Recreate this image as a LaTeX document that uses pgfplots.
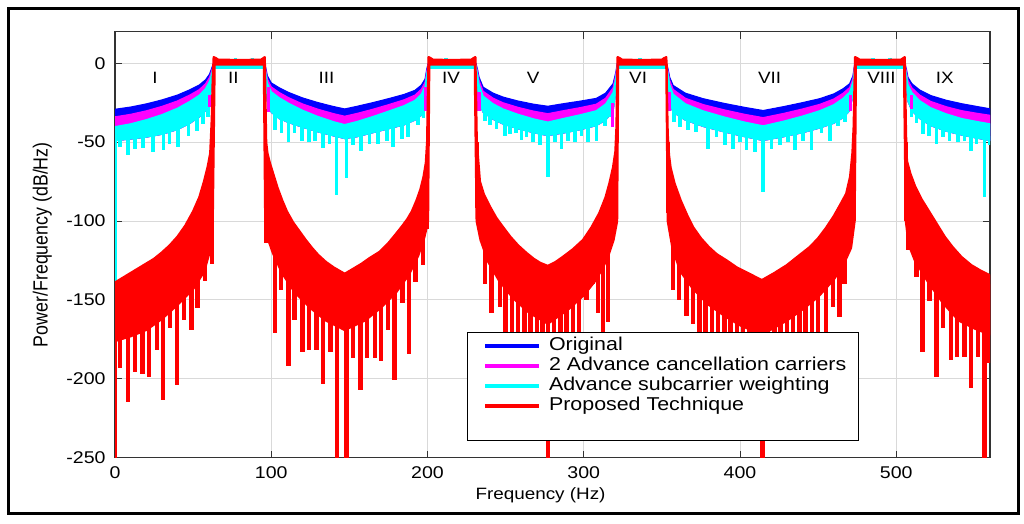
\documentclass[border=0pt]{standalone}
\usepackage{fontspec}
\setmainfont{Liberation Sans}[FakeStretch=1.15]
\newfontfamily\ylfont{Liberation Sans}
\usepackage{graphicx}
\usepackage{pgfplots}
\pgfplotsset{compat=1.18}
\definecolor{cBlue}{RGB}{0,0,255}
\definecolor{cMag}{RGB}{255,0,255}
\definecolor{cCyan}{RGB}{0,255,255}
\definecolor{cRed}{RGB}{255,0,0}
\begin{document}
\begin{tikzpicture}
\useasboundingbox (0pt,0pt) rectangle (512pt,262pt);
\draw[line width=1.5pt] (4.15pt,5.35pt) rectangle (509.25pt,257.75pt);
\begin{axis}[
  at={(57.5pt,33.15pt)}, anchor=south west,
  scale only axis, width=437.5pt, height=213pt,
  xmin=0, xmax=560, ymin=-250, ymax=20,
  xtick={0,100,200,300,400,500},
  ytick={-250,-200,-150,-100,-50,0},
  /pgf/number format/assume math mode=true,
  tick label style={font=\fontsize{8.5}{10}\selectfont},
  yticklabel style={inner sep=0pt, xshift=-4.5pt},
  xticklabel style={inner sep=0pt, yshift=-4.5pt},
  tick align=inside, major tick length=3.5pt,
  tick style={black!80, line width=0.5pt},
  axis line style={black!80, line width=0.6pt},
  grid=major, major grid style={gray!30, line width=0.5pt},
  xlabel={Frequency (Hz)},
  xlabel style={font=\fontsize{8.2}{10}\selectfont, at={(axis description cs:0.4863,-0.0876)}, anchor=center, inner sep=0pt},
  ylabel={\scalebox{1}[1.15]{Power/Frequency (dB/Hz)}},
  ylabel style={font=\ylfont\fontsize{8.9}{10}\selectfont, at={(axis description cs:-0.083,0.5)}, anchor=center, inner sep=0pt},
  legend image code/.code={\path (0pt,0pt); \draw[#1, line width=2pt, fill=none] (2pt,0pt) -- (29pt,0pt);},
  legend cell align=left,
  legend style={at={(0.4026,0.2958)}, anchor=north west, draw=black, line width=0.6pt, fill=white,
    inner xsep=6pt, inner ysep=2pt, row sep=0pt,
    font=\fontsize{9.3}{10}\selectfont,
    nodes={inner sep=0pt, text height=7pt, text depth=3pt},
    /tikz/every odd column/.style={column sep=4pt}},
]
% Original
\addplot[draw=cBlue, fill=cBlue, line width=0.6pt, line join=round] coordinates {
(0,-29.2) (10,-27.8) (20,-25.8) (30,-23.3) (40,-20.2) (48,-16.8) (54,-13.8) (58,-10.5) (60.5,-7) (62,-3) (63,0)
(95.5,0) (96.5,-3) (97.5,-8) (100,-12.5) (105,-15.5) (111,-18.5) (120,-22) (130,-25) (140,-27.5) (147,-29) (155,-27.3) (165,-25) (175,-22.5) (185,-19.8) (192,-17.2) (196,-14) (198.5,-10) (199.5,-4) (200.5,0)
(231,0) (232,-4) (233,-9) (235.6,-15.2) (242,-19) (248.4,-21.5) (258,-24) (268,-26) (277,-27.3) (288,-25.5) (298,-24) (308,-22.3) (314,-19) (318.8,-13) (320.5,-6) (321.5,0)
(353,0) (354,-4) (355,-9) (357.2,-14.1) (365,-19) (376.4,-22.5) (390,-25.5) (403,-28) (414.8,-30) (428,-27.5) (440,-25) (451,-22.5) (460,-19.5) (466,-16.2) (470.2,-13) (472.3,-8) (473.5,0)
(505.5,0) (506.5,-4) (507.5,-9) (510,-13) (515,-17) (522,-20.5) (532,-23.5) (542,-25.7) (552,-27.5) (560,-28.9)
(560,-49) (552,-47.5) (542,-45.5) (532,-43) (522,-39.5) (515,-35) (510,-30) (507.5,-24) (506.5,-15) (505.5,-3.2)
(473.5,-3.2) (472.3,-20) (470.2,-30) (466,-34.5) (460,-38) (451,-41) (440,-44) (428,-46.5) (414.8,-48.9) (403,-46.5) (390,-43.5) (376.4,-40) (365,-36) (357.2,-31) (355,-25) (354,-15) (353,-3.2)
(321.5,-3.2) (320.5,-18) (318.8,-30) (314,-36) (308,-39.5) (298,-42) (288,-44) (277,-45.8) (268,-44) (258,-41.5) (248.4,-38.5) (242,-35.5) (235.6,-31) (233,-25) (232,-15) (231,-3.2)
(200.5,-3.2) (199.5,-16) (198.5,-28) (196,-33) (192,-36) (185,-39) (175,-41.5) (165,-44) (155,-46.5) (147,-47.7) (140,-46) (130,-43.5) (120,-40.5) (111,-37.5) (105,-35) (100,-31) (97.5,-24) (96.5,-14) (95.5,-3.2)
(63,-3.2) (62,-12) (60.5,-24) (58,-30) (54,-34) (48,-38) (40,-42) (30,-45) (20,-46.8) (10,-48) (0,-49)
} -- cycle;
\addlegendentry{Original}
% 2 Advance cancellation carriers
\addplot[draw=cMag, fill=cMag, line width=0.6pt, line join=round] coordinates {
(0,-34) (10,-32.4) (20,-30.2) (30,-27.4) (40,-23.9) (48,-20.1) (54,-16.7) (58,-13) (60.5,-9) (62,-4.5) (63,-1)
(95.5,-1) (96.5,-4.5) (97.5,-10) (100,-15) (105,-18.5) (111,-21.8) (120,-25.8) (130,-29.2) (140,-32) (147,-33.6) (155,-31.8) (165,-29.2) (175,-26.3) (185,-23.2) (192,-20.2) (196,-16.6) (198.5,-12) (199.5,-5.5) (200.5,-1)
(231,-1) (232,-5.5) (233,-11) (235.6,-17.8) (242,-22.2) (248.4,-25.1) (258,-28) (268,-30.4) (277,-32) (288,-29.9) (298,-28.1) (308,-26) (314,-22.2) (318.8,-15.5) (320.5,-7.5) (321.5,-1)
(353,-1) (354,-5.5) (355,-11) (357.2,-16.6) (365,-22.2) (376.4,-26.2) (390,-29.6) (403,-32.4) (414.8,-34.5) (428,-31.8) (440,-29) (451,-26.1) (460,-22.7) (466,-19) (470.2,-15.4) (472.3,-9.8) (473.5,-1)
(505.5,-1) (506.5,-5.5) (507.5,-11) (510,-15.6) (515,-20.2) (522,-24.2) (532,-27.6) (542,-30.1) (552,-31.8) (560,-33)
(560,-49) (552,-47.5) (542,-45.5) (532,-43) (522,-39.5) (515,-35) (510,-30) (507.5,-24) (506.5,-15) (505.5,-3.2)
(473.5,-3.2) (472.3,-20) (470.2,-30) (466,-34.5) (460,-38) (451,-41) (440,-44) (428,-46.5) (414.8,-48.9) (403,-46.5) (390,-43.5) (376.4,-40) (365,-36) (357.2,-31) (355,-25) (354,-15) (353,-3.2)
(321.5,-3.2) (320.5,-18) (318.8,-30) (314,-36) (308,-39.5) (298,-42) (288,-44) (277,-45.8) (268,-44) (258,-41.5) (248.4,-38.5) (242,-35.5) (235.6,-31) (233,-25) (232,-15) (231,-3.2)
(200.5,-3.2) (199.5,-16) (198.5,-28) (196,-33) (192,-36) (185,-39) (175,-41.5) (165,-44) (155,-46.5) (147,-47.7) (140,-46) (130,-43.5) (120,-40.5) (111,-37.5) (105,-35) (100,-31) (97.5,-24) (96.5,-14) (95.5,-3.2)
(63,-3.2) (62,-12) (60.5,-24) (58,-30) (54,-34) (48,-38) (40,-42) (30,-45) (20,-46.8) (10,-48) (0,-49)
} -- cycle;
\addlegendentry{2 Advance cancellation carriers}
% Advance subcarrier weighting
\addplot[draw=cCyan, fill=cCyan, line width=0.6pt, line join=round] coordinates {
(0,-40.2) (10,-38.4) (20,-35.8) (30,-32.6) (40,-28.5) (48,-24.1) (54,-20.2) (58,-16) (60.5,-11.4) (62,-6) (63,-1.5)
(95.5,-1.5) (96.5,-6) (97.5,-12.5) (100,-18) (105,-21.8) (111,-25.3) (120,-29.8) (130,-33.8) (140,-37.1) (147,-38.9) (155,-36.9) (165,-33.8) (175,-30.4) (185,-26.9) (192,-23.5) (196,-19.6) (198.5,-14.5) (199.5,-7) (200.5,-1.5)
(231,-1.5) (232,-7) (233,-13.5) (235.6,-20.8) (242,-25.7) (248.4,-29) (258,-32.4) (268,-35.3) (277,-37.3) (288,-34.8) (298,-32.6) (308,-30.1) (314,-25.8) (318.8,-18.5) (320.5,-9.5) (321.5,-1.5)
(353,-1.5) (354,-7) (355,-13.5) (357.2,-19.6) (365,-25.7) (376.4,-30.2) (390,-34.1) (403,-37.3) (414.8,-39.7) (428,-36.7) (440,-33.5) (451,-30.1) (460,-26.3) (466,-22.2) (470.2,-18.2) (472.3,-11.8) (473.5,-1.5)
(505.5,-1.5) (506.5,-7) (507.5,-13.5) (510,-18.6) (515,-23.7) (522,-28.2) (532,-32.1) (542,-35.1) (552,-37) (560,-38.4)
(560,-49) (552,-47.5) (542,-45.5) (532,-43) (522,-39.5) (515,-35) (510,-30) (507.5,-24) (506.5,-15) (505.5,-3.2)
(473.5,-3.2) (472.3,-20) (470.2,-30) (466,-34.5) (460,-38) (451,-41) (440,-44) (428,-46.5) (414.8,-48.9) (403,-46.5) (390,-43.5) (376.4,-40) (365,-36) (357.2,-31) (355,-25) (354,-15) (353,-3.2)
(321.5,-3.2) (320.5,-18) (318.8,-30) (314,-36) (308,-39.5) (298,-42) (288,-44) (277,-45.8) (268,-44) (258,-41.5) (248.4,-38.5) (242,-35.5) (235.6,-31) (233,-25) (232,-15) (231,-3.2)
(200.5,-3.2) (199.5,-16) (198.5,-28) (196,-33) (192,-36) (185,-39) (175,-41.5) (165,-44) (155,-46.5) (147,-47.7) (140,-46) (130,-43.5) (120,-40.5) (111,-37.5) (105,-35) (100,-31) (97.5,-24) (96.5,-14) (95.5,-3.2)
(63,-3.2) (62,-12) (60.5,-24) (58,-30) (54,-34) (48,-38) (40,-42) (30,-45) (20,-46.8) (10,-48) (0,-49)
} -- cycle;
\addlegendentry{Advance subcarrier weighting}
% cyan spikes
\addplot[cCyan, line width=1.8pt, forget plot, unbounded coords=jump] coordinates {
(0,-45) (0,-140) (0,nan)
(3.2,-46) (3.2,-53) (3.2,nan) (8.5,-45) (8.5,-58.4) (8.5,nan) (12.8,-45) (12.8,-54.5) (12.8,nan)
(18,-44) (18,-54) (18,nan) (24.5,-43) (24.5,-56) (24.5,nan) (31,-42) (31,-55) (31,nan)
(35,-41) (35,-51) (35,nan) (40.5,-39) (40.5,-53) (40.5,nan) (47,-35) (47,-46) (47,nan)
(52.3,-32) (52.3,-43) (52.3,nan) (56.5,-29) (56.5,-38.5) (56.5,nan) (59.7,-24) (59.7,-34) (59.7,nan)
(102.4,-30) (102.4,-42.6) (102.4,nan) (106.5,-33) (106.5,-44) (106.5,nan) (111,-35) (111,-50) (111,nan)
(115,-37) (115,-44.5) (115,nan) (119.7,-38) (119.7,-49) (119.7,nan) (124,-40) (124,-50) (124,nan)
(128,-41) (128,-49) (128,nan) (133.3,-42) (133.3,-54) (133.3,nan) (137.4,-43) (137.4,-51) (137.4,nan)
(141.8,-44) (141.8,-83.7) (141.8,nan) (148.2,-44) (148.2,-73) (148.2,nan) (152.5,-44) (152.5,-52) (152.5,nan)
(157.4,-43) (157.4,-55.3) (157.4,nan) (163,-42) (163,-51) (163,nan) (168.5,-41) (168.5,-51) (168.5,nan)
(174,-39) (174,-49) (174,nan) (178,-38) (178,-53) (178,nan) (183.5,-37) (183.5,-48) (183.5,nan)
(187.7,-35) (187.7,-46.8) (187.7,nan) (194,-32) (194,-39.4) (194,nan) (197.5,-25) (197.5,-35) (197.5,nan)
(236.7,-30) (236.7,-36.3) (236.7,nan) (240,-32) (240,-39.4) (240,nan) (244.2,-34) (244.2,-41.5) (244.2,nan)
(249.5,-36) (249.5,-45.8) (249.5,nan) (252.7,-37) (252.7,-45) (252.7,nan) (256.5,-38) (256.5,-44) (256.5,nan)
(260.2,-39) (260.2,-48.9) (260.2,nan) (263.4,-39) (263.4,-46.8) (263.4,nan) (267.6,-40) (267.6,-50) (267.6,nan)
(272,-41) (272,-52) (272,nan) (277.2,-41) (277.2,-72) (277.2,nan) (281.5,-41) (281.5,-50) (281.5,nan)
(285.8,-40) (285.8,-54.2) (285.8,nan) (290,-40) (290,-49) (290,nan) (294.3,-39) (294.3,-50) (294.3,nan)
(298.6,-38) (298.6,-45.8) (298.6,nan) (302.8,-37) (302.8,-50) (302.8,nan) (308.2,-35) (308.2,-49) (308.2,nan)
(313.5,-33) (313.5,-40) (313.5,nan) (317,-27) (317,-34) (317,nan)
(357.8,-28) (357.8,-37.3) (357.8,nan) (361.5,-31) (361.5,-40.5) (361.5,nan) (366.6,-34) (366.6,-42.6) (366.6,nan)
(372,-36) (372,-43.7) (372,nan) (379.6,-38) (379.6,-54.2) (379.6,nan) (385,-39) (385,-46.8) (385,nan)
(390.3,-40) (390.3,-52) (390.3,nan) (395.6,-41) (395.6,-54.2) (395.6,nan) (399.9,-42) (399.9,-50) (399.9,nan)
(404.2,-43) (404.2,-55.2) (404.2,nan) (409.5,-44) (409.5,-56.3) (409.5,nan) (414.8,-45) (414.8,-81.6) (414.8,nan)
(420.2,-44) (420.2,-54.2) (420.2,nan) (425.5,-43) (425.5,-52) (425.5,nan) (430.9,-42) (430.9,-50) (430.9,nan)
(435.1,-42) (435.1,-55.2) (435.1,nan) (440.4,-41) (440.4,-49) (440.4,nan) (445.8,-40) (445.8,-55.2) (445.8,nan)
(452.2,-38) (452.2,-44) (452.2,nan) (457.6,-36) (457.6,-49) (457.6,nan) (462.9,-34) (462.9,-40) (462.9,nan)
(467.2,-31) (467.2,-37) (467.2,nan)
(509.7,-26) (509.7,-34) (509.7,nan) (512.9,-30) (512.9,-38) (512.9,nan) (517.2,-33) (517.2,-44.7) (517.2,nan)
(521,-36) (521,-46) (521,nan) (525.7,-38) (525.7,-51) (525.7,nan) (530,-40) (530,-47) (530,nan)
(534.2,-41) (534.2,-49) (534.2,nan) (539.6,-42) (539.6,-50) (539.6,nan) (543.8,-43) (543.8,-49) (543.8,nan)
(548,-44) (548,-55.3) (548,nan) (551.3,-45) (551.3,-51) (551.3,nan) (556.6,-45) (556.6,-84.8) (556.6,nan)
(559.7,-46) (559.7,-52) (559.7,nan)
(70.5,-2) (70.5,3) (70.5,nan) (77,-2) (77,3.5) (77,nan) (88,-2) (88,3.5) (88,nan)
(212,-2) (212,3.5) (212,nan) (219,-2) (219,3) (219,nan) (336,-2) (336,3.5) (336,nan) (342,-2) (342,3) (342,nan)
(485,-2) (485,3.5) (485,nan) (490,-2) (490,3) (490,nan) (496,-2) (496,3.5) (496,nan)
};
% magenta notches
\addplot[cMag, line width=1.6pt, forget plot, unbounded coords=jump] coordinates {
(60.8,-20) (60.8,-27.8) (60.8,nan) (98,-15) (98,-31) (98,nan) (199,-15) (199,-30) (199,nan)
(233,-18) (233,-30) (233,nan) (318.4,-25) (318.4,-40.5) (318.4,nan) (355,-18) (355,-30) (355,nan)
(470.5,-20) (470.5,-30) (470.5,nan) (509.7,-20) (509.7,-29) (509.7,nan)
};
% Proposed Technique
\addplot[draw=cRed, fill=cRed, line width=1.2pt, line join=round] coordinates {
(0,-139) (5,-136) (10,-133) (15,-130) (20,-127) (25,-124) (30,-120) (35,-115.5) (40,-110) (45,-103) (50,-94) (54,-85) (57,-75) (59.5,-65) (61,-57) (62,-35) (62.6,-10) (63.2,3.8) (64.5,3.2) (66,2.2) (80,2) (93.5,2.2) (95,3.2) (95.8,3.8)
(96.2,-20) (96.7,-50) (97.5,-57) (99,-63) (101.5,-71) (104,-79) (107,-87) (110,-94) (114,-101) (118,-106.5) (122,-112) (126,-117) (130,-121.5) (135,-126) (140,-129.5) (147,-133.5) (153,-130) (158,-127) (163,-123.5) (169.5,-119.5) (175,-114) (180,-108) (184,-103) (187,-99) (190,-94) (193,-87) (195.5,-80) (197.5,-72) (199,-63) (199.8,-50) (200.3,-20) (200.7,3.8) (202,3.2) (203.5,2.2) (215,2) (228,2.2) (229.5,3.2) (230.6,3.8)
(231,-20) (231.5,-50) (232.3,-60) (233.5,-75) (236,-83) (240,-91) (244,-98) (248.4,-104) (253,-110) (258,-115.5) (263,-120) (268,-124) (272,-126.5) (277,-128.5) (282,-126) (287,-122.5) (293,-118) (299.6,-112) (305,-104) (310,-95) (314,-85) (316.5,-76) (318.8,-66) (320.3,-56) (321,-40) (321.3,-20) (321.7,3.8) (323,3.2) (324.5,2.2) (337,2) (350,2.2) (351.5,3.2) (352.8,3.8)
(353.2,-20) (353.7,-45) (354.5,-58) (355.5,-66) (358,-76) (362,-87) (366,-96) (370,-104) (375,-111) (380,-116.5) (385,-121) (391.4,-125) (398,-129.5) (405,-133) (414,-137.5) (422,-133) (430,-128) (437,-122.5) (444.7,-116.5) (450,-111) (455,-104.5) (460,-97) (464,-90) (468,-82.7) (470.5,-72) (472,-57) (472.8,-40) (473.3,-15) (473.7,3.8) (475,3.2) (476.5,2.2) (490,2) (503,2.2) (504.5,3.2) (505.4,3.8)
(505.8,-20) (506.2,-45) (506.8,-62) (509,-70) (512,-78) (516,-86) (520.4,-93) (526,-102) (531,-110) (536,-116.5) (541.7,-122.8) (548,-128) (554,-131.5) (560,-134.5)
(560,-172) (550,-168) (540,-163) (530,-152) (520,-138) (512,-125) (508,-115) (506.2,-100) (505.1,-10) (505.1,-0.8) (474.1,-0.8) (474.1,-10) (473.3,-100) (471,-117) (466,-128) (460,-137) (450,-148) (440,-156) (430,-163) (414,-172) (400,-166) (390,-160) (380,-153) (370,-143) (362,-132) (357,-118) (353.8,-100) (353.0,-10) (353.0,-0.8)
(321.9,-0.8) (321.9,-10) (321.3,-100) (319,-112) (315,-124) (308,-137) (300,-147) (290,-156) (277,-165) (265,-158) (255,-149) (246,-138) (239,-126) (234,-112) (231.5,-100) (230.4,-10) (230.4,-0.8)
(201,-0.8) (201,-10) (200.3,-100) (198,-110) (194,-122) (188,-134) (180,-145) (170,-155) (160,-163) (147,-169) (135,-163) (125,-155) (115,-145) (107,-133) (101,-120) (97.5,-110) (96.2,-100) (95.4,-10) (95.4,-0.8)
(63.6,-0.8) (63.6,-10) (62.5,-100) (61,-118) (57,-132) (50,-143) (40,-153) (30,-162) (20,-169) (10,-173) (0,-176)
} -- cycle;
\addlegendentry{Proposed Technique}
% red spikes
\addplot[cRed, line width=2.2pt, forget plot, unbounded coords=jump] coordinates {
(0,-160) (0,-250) (0,nan) (3.2,-165) (3.2,-193) (3.2,nan) (8.5,-162) (8.5,-215) (8.5,nan)
(12.8,-160) (12.8,-195.5) (12.8,nan) (17.5,-158) (17.5,-197) (17.5,nan) (21.8,-156) (21.8,-199) (21.8,nan)
(26.7,-153) (26.7,-182) (26.7,nan) (30.9,-150) (30.9,-213.5) (30.9,nan) (35.2,-146) (35.2,-168) (35.2,nan)
(39.5,-143) (39.5,-204) (39.5,nan) (44,-138) (44,-163) (44,nan) (49,-132) (49,-169) (49,nan)
(52.9,-126) (52.9,-155) (52.9,nan) (57.6,-118) (57.6,-138) (57.6,nan) (62,-60) (62,-127) (62,nan)
(97,-60) (97,-114) (97,nan) (102.4,-110) (102.4,-171) (102.4,nan) (106.2,-115) (106.2,-144) (106.2,nan)
(111,-125) (111,-192) (111,nan) (115,-130) (115,-163) (115,nan) (120,-135) (120,-183) (120,nan)
(124.3,-140) (124.3,-182) (124.3,nan) (129,-145) (129,-182) (129,nan) (133.3,-150) (133.3,-203) (133.3,nan)
(138,-152) (138,-183) (138,nan) (142.2,-155) (142.2,-250) (142.2,nan) (148.2,-155) (148.2,-250) (148.2,nan)
(152.5,-152) (152.5,-187) (152.5,nan) (157.2,-150) (157.2,-207) (157.2,nan) (161.4,-148) (161.4,-187) (161.4,nan)
(166.3,-145) (166.3,-187) (166.3,nan) (170.2,-140) (170.2,-189) (170.2,nan) (174.9,-137) (174.9,-169) (174.9,nan)
(179,-133) (179,-201) (179,nan) (184,-128) (184,-152) (184,nan) (188.3,-122) (188.3,-184) (188.3,nan)
(192.4,-115) (192.4,-138.6) (192.4,nan) (197.3,-100) (197.3,-128) (197.3,nan) (199.8,-60) (199.8,-105) (199.8,nan)
(231.6,-50) (231.6,-92) (231.6,nan) (236.7,-105) (236.7,-139.6) (236.7,nan) (241,-110) (241,-158.6) (241,nan)
(246.3,-118) (246.3,-154.4) (246.3,nan) (250,-125) (250,-200) (250,nan) (254,-128) (254,-185) (254,nan)
(258,-132) (258,-195) (258,nan) (262,-135) (262,-200) (262,nan) (266,-138) (266,-190) (266,nan)
(270,-140) (270,-210) (270,nan) (273.5,-142) (273.5,-195) (273.5,nan) (277.2,-143) (277.2,-250) (277.2,nan)
(281,-142) (281,-200) (281,nan) (285,-140) (285,-190) (285,nan) (289,-137) (289,-205) (289,nan)
(293,-134) (293,-185) (293,nan) (297,-130) (297,-195) (297,nan) (301.8,-125) (301.8,-150) (301.8,nan)
(306,-118) (306,-139.6) (306,nan) (309,-113) (309,-158.6) (309,nan) (312.5,-108) (312.5,-180) (312.5,nan)
(315.6,-100) (315.6,-164) (315.6,nan) (320.6,-60) (320.6,-89) (320.6,nan)
(353.8,-50) (353.8,-95) (353.8,nan) (357,-105) (357,-144) (357,nan) (361,-110) (361,-150) (361,nan)
(365.8,-118) (365.8,-160) (365.8,nan) (370,-122) (370,-165) (370,nan) (374,-128) (374,-190) (374,nan)
(378,-132) (378,-185) (378,nan) (382,-135) (382,-200) (382,nan) (386,-138) (386,-190) (386,nan)
(390,-140) (390,-205) (390,nan) (394,-142) (394,-195) (394,nan) (398,-144) (398,-200) (398,nan)
(402,-146) (402,-190) (402,nan) (406,-148) (406,-210) (406,nan) (410,-150) (410,-200) (410,nan)
(414.5,-150) (414.5,-250) (414.5,nan) (418,-150) (418,-200) (418,nan) (422,-148) (422,-195) (422,nan)
(426,-146) (426,-205) (426,nan) (430,-143) (430,-190) (430,nan) (434,-140) (434,-200) (434,nan)
(438,-137) (438,-185) (438,nan) (442,-134) (442,-195) (442,nan) (446,-130) (446,-180) (446,nan)
(450,-126) (450,-178) (450,nan) (455,-120) (455,-172) (455,nan) (459.6,-113) (459.6,-154.4) (459.6,nan)
(463.8,-106) (463.8,-160.8) (463.8,nan) (467,-98) (467,-140) (467,nan) (471.3,-80) (471.3,-108) (471.3,nan)
(472.9,-50) (472.9,-100) (472.9,nan)
(506.3,-50) (506.3,-100) (506.3,nan) (507.6,-95) (507.6,-118.5) (507.6,nan) (512.9,-100) (512.9,-135.4) (512.9,nan)
(516.7,-105) (516.7,-183) (516.7,nan) (521.4,-110) (521.4,-151) (521.4,nan) (525.7,-115) (525.7,-198.7) (525.7,nan)
(530,-120) (530,-168) (530,nan) (534.9,-125) (534.9,-188) (534.9,nan) (538.9,-128) (538.9,-186) (538.9,nan)
(543.8,-132) (543.8,-186) (543.8,nan) (547.7,-135) (547.7,-206) (547.7,nan) (552.3,-137) (552.3,-186) (552.3,nan)
(556.6,-139) (556.6,-250) (556.6,nan) (559.8,-140) (559.8,-190) (559.8,nan)
};
\addlegendimage{empty legend}
\addlegendentry{}
\begin{scope}[font=\fontsize{8.2}{10}\selectfont]
\node at (axis cs:25.6,-9) {I};
\node at (axis cs:75.7,-9) {II};
\node at (axis cs:135.4,-9) {III};
\node at (axis cs:215,-9) {IV};
\node at (axis cs:267.6,-9) {V};
\node at (axis cs:334.8,-9) {VI};
\node at (axis cs:419,-9) {VII};
\node at (axis cs:490.5,-9) {VIII};
\node at (axis cs:531,-9) {IX};
\end{scope}
\end{axis}
\end{tikzpicture}
\end{document}
